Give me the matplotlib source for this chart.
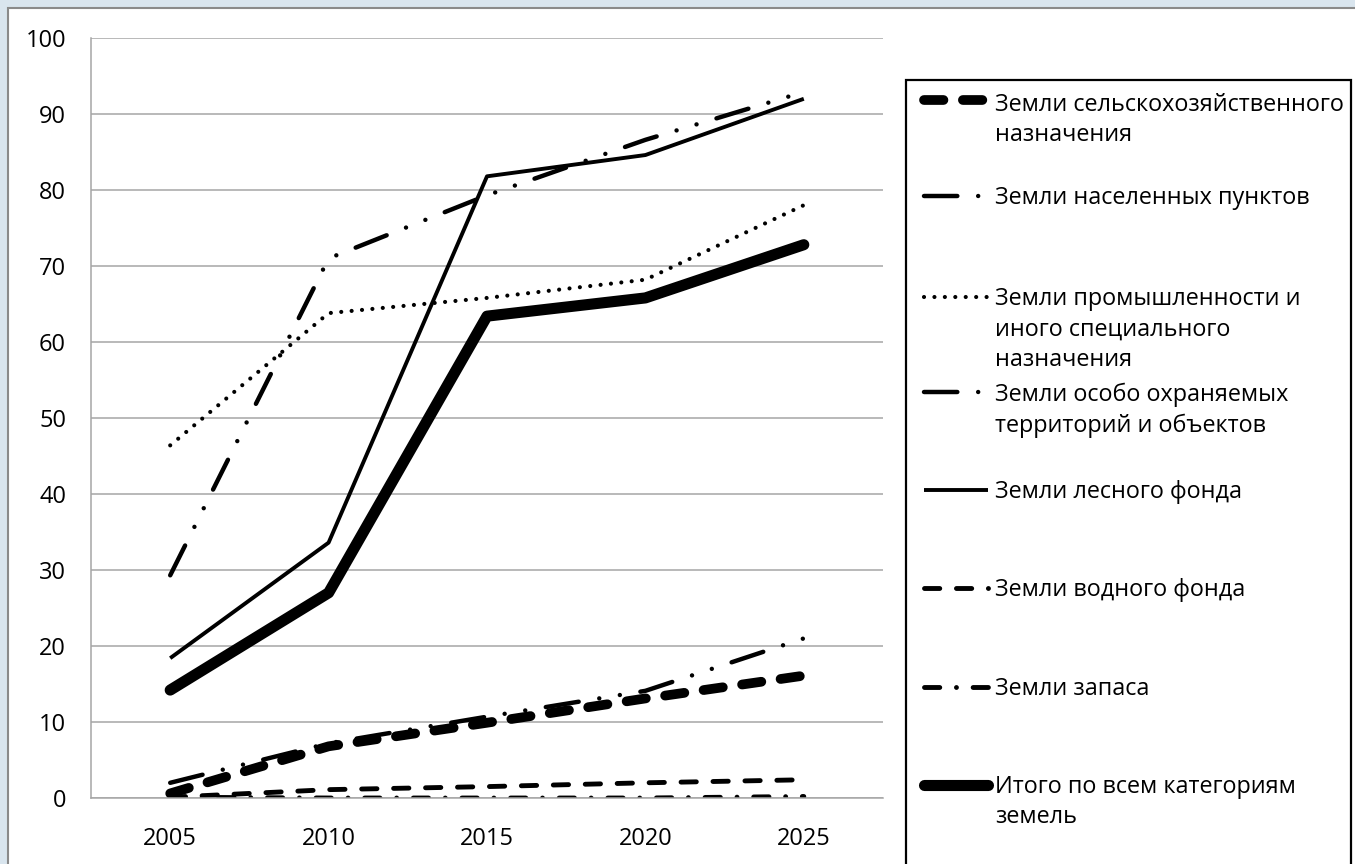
import matplotlib
matplotlib.use("Agg")
import matplotlib.pyplot as plt
from matplotlib.lines import Line2D
from matplotlib.patches import Rectangle

plt.rcParams['font.family'] = ['Open Sans', 'DejaVu Sans']
plt.rcParams['lines.scale_dashes'] = False

years = ['2005', '2010', '2015', '2020', '2025']
agri = [0.6, 6.8, 9.9, 13.1, 16.1]
settlements = [29.3, 71.0, 79.3, 86.6, 92.9]
industry = [46.4, 63.8, 65.8, 68.2, 78.0]
protected = [2.0, 7.2, 10.7, 14.1, 21.0]
forest = [18.4, 33.6, 81.8, 84.6, 92.0]
water = [0.1, 1.1, 1.5, 2.0, 2.4]
reserve = [0.1, 0.0, 0.0, 0.0, 0.2]
total = [14.2, 27.0, 63.4, 65.8, 72.8]

labels = ['Земли сельскохозяйственного\nназначения',
          'Земли населенных пунктов',
          'Земли промышленности и\nиного специального\nназначения',
          'Земли особо охраняемых\nтерриторий и объектов',
          'Земли лесного фонда',
          'Земли водного фонда',
          'Земли запаса',
          'Итого по всем категориям\nземель']

dashdotdot = (0, (24, 15, 0.01, 15, 0.01, 15))
styles = [
    dict(lw=7, ls=(0, (14, 14)), cap='round'),
    dict(lw=3.2, ls=dashdotdot, cap='round'),
    dict(lw=3, ls=(0, (0.01, 7.5)), cap='round'),
    dict(lw=3.2, ls=dashdotdot, cap='round'),
    dict(lw=2.8, ls='-', cap='butt'),
    dict(lw=3.5, ls=(0, (11, 12)), cap='round'),
    dict(lw=3.5, ls=(0, (11, 12, 0.01, 12)), cap='round'),
    dict(lw=8, ls='-', cap='round'),
]
series = [agri, settlements, industry, protected, forest, water, reserve, total]

W, H = 1355, 864
fig = plt.figure(figsize=(W / 100, H / 100), dpi=100)
fig.patch.set_facecolor('#d9e5ee')

# white chart panel
fig.add_artist(Rectangle((8 / W, -0.01), 1.0, 1 - 8 / H + 0.01, transform=fig.transFigure,
                         facecolor='white', edgecolor='#8a8a8a', lw=1.5, zorder=0))

ax = fig.add_axes([91 / W, 1 - 798 / H, (883 - 91) / W, (798 - 38) / H])
ax.set_facecolor('white')
x = list(range(len(years)))
for vals, st in zip(series, styles):
    ax.plot(x, vals, color='black', lw=st['lw'], linestyle=st['ls'],
            dash_capstyle=st['cap'], solid_capstyle=st['cap'], solid_joinstyle='round')

ax.set_xlim(-0.5, len(years) - 0.5)
ax.set_ylim(0, 100)
ax.set_yticks(range(0, 101, 10))
ax.set_xticks(x)
ax.set_xticklabels(years)
ax.tick_params(length=0, labelsize=17, colors='black')
ax.tick_params(axis='y', pad=18)
ax.tick_params(axis='x', pad=21)
ax.grid(axis='y', color='#a6a6a6', lw=1.1)
ax.set_axisbelow(True)
for s in ['top', 'right']:
    ax.spines[s].set_visible(False)
ax.spines['left'].set_color('#a6a6a6')
ax.spines['bottom'].set_color('#a6a6a6')
ax.spines['left'].set_linewidth(1.1)
ax.spines['bottom'].set_linewidth(1.1)

# legend box drawn by hand (uneven Excel spacing)
fig.add_artist(Rectangle((906 / W, -0.01), (1351 - 906) / W, 1 - 80 / H + 0.01,
                         transform=fig.transFigure, facecolor='white',
                         edgecolor='black', lw=1.6, zorder=1))
legend_y = [100, 196, 297, 392, 490, 588, 687, 785]
text_y = [103, 196, 297, 393, 490, 588, 687, 785]
for ly, ty, lab, st in zip(legend_y, text_y, labels, styles):
    yy = 1 - ly / H
    fig.add_artist(Line2D([924 / W, 988 / W], [yy, yy], transform=fig.transFigure,
                          color='black', lw=st['lw'], linestyle=st['ls'],
                          dash_capstyle=st['cap'], solid_capstyle=st['cap'], zorder=2))
    fig.text(995 / W, 1 - (ty - 10) / H, lab, fontsize=16.8, va='top', ha='left',
             linespacing=1.36, zorder=3)

fig.savefig('out.png', dpi=100)
